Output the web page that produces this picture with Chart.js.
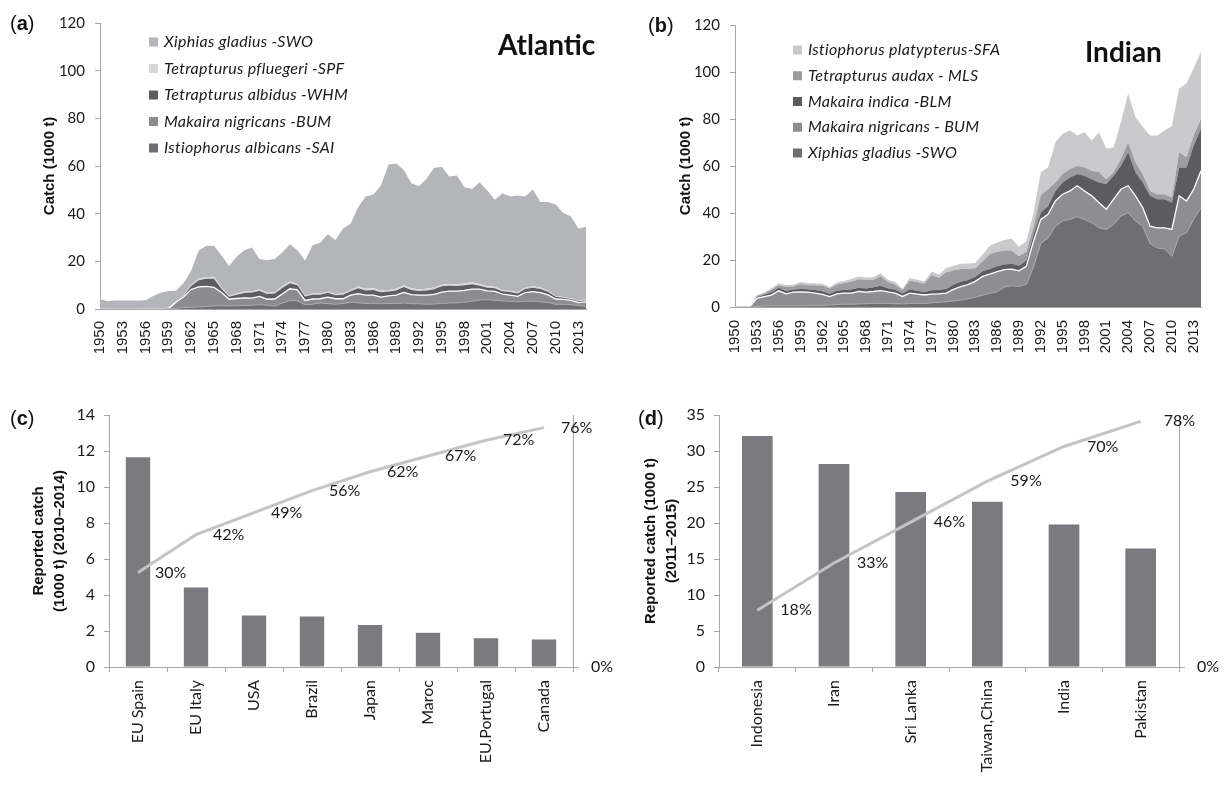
<!DOCTYPE html>
<html>
<head>
<meta charset="utf-8">
<script src="https://cdn.jsdelivr.net/npm/chart.js@4.4.0/dist/chart.umd.min.js"></script>
<style>
  body { margin: 0; background: #fff; width: 1232px; height: 786px; position: relative; overflow: hidden; }
  canvas { position: absolute; }
</style>
</head>
<body>
<canvas id="atl" width="616" height="390" style="left:0;top:0"></canvas>
<canvas id="ind" width="616" height="390" style="left:616px;top:0"></canvas>
<canvas id="topAtl" width="616" height="396" style="left:0;top:390px"></canvas>
<canvas id="topInd" width="616" height="396" style="left:616px;top:390px"></canvas>
<script>
const years = [
  '1950','1951','1952','1953','1954','1955','1956','1957','1958','1959',
  '1960','1961','1962','1963','1964','1965','1966','1967','1968','1969',
  '1970','1971','1972','1973','1974','1975','1976','1977','1978','1979',
  '1980','1981','1982','1983','1984','1985','1986','1987','1988','1989',
  '1990','1991','1992','1993','1994','1995','1996','1997','1998','1999',
  '2000','2001','2002','2003','2004','2005','2006','2007','2008','2009',
  '2010','2011','2012','2013','2014'
];

// Atlantic catches (1000 t), stacked bottom to top
const saiAtl = [
  0, 0, 0, 0, 0, 0, 0, 0, 0, 0.1,
  0.3, 0.5, 0.7, 0.8, 1.0, 1.3, 1.4, 1.3, 1.4, 1.5,
  1.6, 1.8, 1.6, 1.2, 2.5, 3.5, 3.5, 1.8, 2.0, 2.5,
  2.2, 2.0, 2.3, 2.8, 2.6, 2.3, 2.3, 2.2, 2.3, 2.3,
  2.5, 2.2, 2.2, 2.0, 2.1, 2.3, 2.5, 2.6, 2.8, 3.3,
  3.8, 3.9, 3.7, 3.4, 3.2, 3.0, 3.3, 3.3, 3.0, 2.7,
  2.0, 2.0, 1.8, 1.5, 1.2
];
const bumAtl = [
  0, 0, 0, 0, 0, 0, 0, 0, 0, 0,
  2.5, 4.5, 7.5, 8.5, 8.5, 7.8, 5.5, 2.8, 3.0, 3.2,
  3.0, 3.5, 2.5, 3.0, 3.8, 5.0, 4.5, 1.8, 2.2, 1.8,
  2.8, 2.3, 2.0, 3.0, 3.8, 3.5, 3.5, 2.8, 3.2, 3.5,
  4.5, 3.8, 3.6, 3.8, 4.0, 4.8, 5.0, 4.9, 5.0, 5.0,
  4.5, 3.7, 3.7, 2.8, 2.6, 2.3, 3.6, 4.0, 3.9, 3.2,
  2.2, 2.0, 1.8, 1.2, 1.8
];
const whmAtl = [
  0, 0, 0, 0, 0, 0, 0, 0, 0, 0,
  0.3, 0.6, 1.5, 2.8, 3.2, 3.6, 1.6, 1.0, 1.6, 2.0,
  2.3, 2.4, 2.2, 2.3, 2.5, 2.3, 2.0, 1.6, 1.8, 1.7,
  1.8, 1.5, 1.7, 1.7, 2.3, 2.0, 2.2, 2.0, 1.8, 2.0,
  2.2, 2.0, 1.8, 2.0, 2.2, 2.4, 2.3, 2.1, 2.2, 2.1,
  1.5, 1.3, 1.3, 1.2, 1.3, 1.2, 1.5, 1.6, 1.5, 1.3,
  0.9, 0.7, 0.6, 0.5, 0.6
];
const spfAtl = [
  0, 0, 0, 0, 0, 0, 0.3, 0.4, 0.4, 0.4,
  0.2, 0.3, 0.5, 0.6, 0.6, 0.8, 0.5, 0.4, 0.5, 0.6,
  0.6, 0.6, 0.5, 0.5, 0.7, 0.7, 0.5, 0.5, 0.5, 0.5,
  0.5, 0.5, 0.5, 0.5, 0.8, 0.7, 0.7, 0.7, 0.7, 0.7,
  0.8, 0.7, 0.7, 0.7, 0.7, 0.7, 0.7, 0.7, 0.8, 0.8,
  0.7, 0.6, 0.6, 0.6, 0.6, 0.5, 0.6, 0.6, 0.6, 0.5,
  0.4, 0.3, 0.3, 0.3, 0.4
];
const swoAtl = [
  4.2, 3.3, 3.6, 3.6, 3.6, 3.6, 3.4, 5.1, 6.4, 7.1,
  4.4, 4.9, 5.8, 11.8, 13.2, 13.0, 13.5, 12.5, 15.5, 17.4,
  18.3, 12.7, 13.7, 14.0, 14.2, 15.7, 14.2, 14.6, 20.3, 21.3,
  24.1, 22.7, 27.3, 27.8, 33.3, 38.7, 39.3, 44.1, 52.6, 52.6,
  48.3, 44.1, 43.2, 46.1, 50.2, 49.5, 45.1, 45.7, 40.3, 39.2,
  42.7, 40.2, 36.5, 40.6, 39.5, 40.6, 38.2, 40.6, 35.9, 37.2,
  38.3, 35.3, 34.4, 30.3, 30.5
];

// Indian Ocean catches (1000 t), stacked bottom to top
const swoInd = [
  0, 0, 0, 0.3, 0.4, 0.5, 0.5, 0.5, 0.5, 0.5,
  0.6, 0.6, 0.7, 0.8, 1.0, 1.2, 1.2, 1.3, 1.4, 1.5,
  1.6, 1.5, 1.4, 1.3, 1.5, 1.6, 1.5, 1.8, 2.0, 2.2,
  2.6, 3.0, 3.5, 4.2, 5.0, 5.8, 6.5, 8.5, 9.0, 8.8,
  9.5, 17.0, 27.0, 29.4, 34.4, 36.6, 37.3, 38.4, 37.3, 35.9,
  33.7, 33.0, 35.1, 38.7, 40.1, 36.6, 34.4, 27.0, 25.1, 24.7,
  21.6, 30.1, 31.6, 37.3, 42.3
];
const bumInd = [
  0, 0, 0, 3.4, 4.0, 4.6, 6.4, 5.1, 5.8, 5.9,
  5.7, 5.3, 4.7, 3.6, 4.6, 4.7, 4.7, 5.3, 4.9, 5.1,
  5.4, 4.9, 4.5, 3.2, 4.4, 3.9, 3.6, 3.7, 3.6, 3.7,
  4.9, 5.7, 6.0, 6.7, 8.0, 8.2, 8.6, 7.4, 7.1, 6.6,
  7.8, 11.0, 10.3, 10.0, 10.7, 11.4, 12.1, 13.2, 12.1, 11.4,
  10.7, 8.6, 10.8, 11.4, 11.5, 10.7, 7.9, 7.4, 8.6, 9.0,
  11.4, 17.2, 13.5, 12.8, 15.7
];
const blmInd = [
  0, 0, 0, 0.6, 0.8, 1.2, 1.3, 1.2, 1.2, 1.3,
  1.3, 1.3, 1.3, 1.2, 1.3, 1.4, 1.6, 1.6, 1.6, 1.8,
  2.0, 1.6, 1.4, 1.2, 1.5, 1.4, 1.3, 1.6, 1.6, 1.8,
  2.0, 2.0, 2.0, 2.0, 2.2, 2.2, 2.2, 2.2, 2.3, 2.2,
  2.5, 2.8, 2.8, 3.6, 4.3, 5.0, 5.7, 5.0, 6.5, 7.1,
  8.6, 10.7, 10.0, 10.0, 14.3, 10.0, 10.7, 12.9, 12.2, 12.2,
  11.4, 12.1, 14.3, 18.6, 17.9
];
const mlsInd = [
  0, 0, 0, 0.5, 0.5, 1.1, 1.1, 1.8, 1.2, 2.0,
  1.7, 2.1, 2.4, 2.3, 2.7, 2.9, 3.4, 3.6, 3.6, 3.1,
  4.1, 2.6, 2.3, 1.5, 3.8, 3.7, 3.5, 6.5, 5.2, 7.1,
  6.1, 5.5, 4.8, 3.6, 4.3, 6.4, 6.2, 5.9, 5.6, 4.0,
  3.7, 3.2, 7.5, 7.1, 3.6, 3.6, 3.6, 3.5, 3.5, 3.6,
  4.3, 2.1, 1.4, 2.9, 4.2, 4.3, 3.6, 2.1, 2.1, 2.1,
  2.2, 6.5, 4.3, 4.3, 4.2
];
const sfaInd = [
  0, 0, 0, 0.3, 0.4, 0.6, 0.8, 0.8, 0.7, 0.9,
  0.8, 0.8, 0.8, 0.6, 0.8, 0.9, 1.0, 1.2, 1.1, 1.2,
  1.3, 1.0, 1.0, 0.6, 1.1, 1.0, 1.0, 1.5, 1.3, 1.8,
  2.0, 2.2, 2.2, 2.2, 2.8, 3.5, 4.0, 4.5, 5.0, 4.0,
  4.5, 6.0, 9.7, 9.3, 17.1, 17.1, 16.4, 12.9, 15.0, 12.9,
  17.1, 12.9, 10.7, 15.7, 20.8, 19.3, 20.0, 23.6, 25.0, 27.1,
  30.4, 27.1, 31.4, 28.6, 28.6
];

// Top fishing countries
const countriesAtl = ['EU Spain', 'EU Italy', 'USA', 'Brazil', 'Japan', 'Maroc', 'EU.Portugal', 'Canada'];
const catchAtl = [11.65, 4.42, 2.86, 2.8, 2.34, 1.9, 1.6, 1.53];
const cumPctAtl = [30, 42, 49, 56, 62, 67, 72, 76];

const countriesInd = ['Indonesia', 'Iran', 'Sri Lanka', 'Taiwan,China', 'India', 'Pakistan'];
const catchInd = [32.1, 28.2, 24.3, 22.95, 19.8, 16.45];
const cumPctInd = [18, 33, 46, 59, 70, 78];

Chart.defaults.font.family = 'Lato, sans-serif';
Chart.defaults.color = '#1a1a1a';

const AXIS = '#a6a6a6';
const INK = '#1a1a1a';

// text written straight on the canvas: panel letters and ocean names
const notes = {
  id: 'notes',
  afterDraw(chart, args, opts) {
    const ctx = chart.ctx;
    ctx.save();
    ctx.fillStyle = '#111';
    ctx.textBaseline = 'alphabetic';
    ctx.textAlign = 'left';
    (opts.items || []).forEach(item => {
      let x = item.x;
      item.parts.forEach(p => {
        ctx.font = p.font;
        ctx.fillText(p.text, x, item.y);
        x += ctx.measureText(p.text).width;
      });
    });
    ctx.restore();
  }
};

function panelTag(letter, x, y) {
  const f = '20px "Liberation Sans", Arial, sans-serif';
  return { x, y, parts: [{ text: '(', font: f }, { text: letter, font: 'bold ' + f }, { text: ')', font: f }] };
}

// legend drawn inside the plot, top of stack first (like Excel)
const areaLegend = {
  id: 'areaLegend',
  afterDraw(chart, args, opts) {
    const ctx = chart.ctx;
    const sets = chart.data.datasets;
    ctx.save();
    ctx.font = 'italic 16px Lato';
    ctx.letterSpacing = '0.3px';
    ctx.textBaseline = 'middle';
    ctx.textAlign = 'left';
    for (let k = 0; k < sets.length; k++) {
      const ds = sets[sets.length - 1 - k];
      const y = opts.y + k * opts.dy;
      ctx.fillStyle = ds.backgroundColor;
      ctx.fillRect(opts.x, y - 4.5, 9, 9);
      ctx.fillStyle = INK;
      ctx.fillText(ds.label, opts.x + 15, y);
    }
    ctx.restore();
  }
};

// cumulative percentage labels right of each line point
const pctLabels = {
  id: 'pctLabels',
  afterDatasetsDraw(chart, args, opts) {
    const ctx = chart.ctx;
    const meta = chart.getDatasetMeta(1);
    const vals = chart.data.datasets[1].data;
    ctx.save();
    ctx.font = '16px Lato';
    ctx.fillStyle = INK;
    ctx.textAlign = 'left';
    ctx.textBaseline = 'middle';
    meta.data.forEach((pt, i) => ctx.fillText(vals[i] + '%', pt.x + opts.dx, pt.y));
    ctx.restore();
  }
};

function areaChart(id, series, g) {
  new Chart(document.getElementById(id), {
    type: 'line',
    data: {
      labels: years,
      datasets: series.map((s, i) => ({
        label: s.label,
        data: s.data,
        backgroundColor: s.color,
        borderColor: s.line || 'rgba(0,0,0,0)',
        borderWidth: s.lineWidth || 1,
        fill: i === 0 ? 'origin' : '-1',
        pointRadius: 0,
        tension: 0
      }))
    },
    options: {
      responsive: false,
      animation: false,
      devicePixelRatio: 1,
      layout: { padding: { left: 0, top: g.top, right: g.right, bottom: 0 } },
      plugins: {
        legend: { display: false },
        tooltip: { enabled: false },
        areaLegend: g.legend,
        notes: { items: g.notes }
      },
      scales: {
        x: {
          offset: false,
          ticks: {
            autoSkip: false, maxRotation: 90, minRotation: 90, padding: g.xPad,
            font: { family: '"Liberation Sans", Arial, sans-serif', size: 15 }, color: INK,
            callback(v, i) { return i % 3 === 0 ? this.getLabelForValue(v) : ''; }
          },
          grid: { display: false, drawTicks: false },
          border: { color: AXIS },
          afterFit: s => { s.height = g.xHeight; }
        },
        y: {
          stacked: true, min: 0, max: 120,
          ticks: { stepSize: 20, padding: 10, font: { size: 15 }, color: INK },
          grid: { drawOnChartArea: false, tickLength: 5, color: AXIS },
          border: { color: AXIS },
          title: {
            display: true, text: 'Catch (1000 t)', color: '#111',
            font: { family: '"Liberation Sans", Arial, sans-serif', weight: 'bold', size: 15 },
            padding: { top: g.titleX - 9, bottom: 0 }
          },
          afterFit: s => { s.width = g.yWidth; }
        }
      }
    },
    plugins: [areaLegend, notes]
  });
}

function paretoChart(id, cats, vals, pcts, g) {
  new Chart(document.getElementById(id), {
    data: {
      labels: cats,
      datasets: [
        { type: 'bar', data: vals, backgroundColor: '#7b7b7f', barPercentage: g.bar, categoryPercentage: 1, order: 1, yAxisID: 'y' },
        { type: 'line', data: pcts, borderColor: '#c4c4c4', borderWidth: 3, pointRadius: 0, tension: 0, fill: false, order: 0, yAxisID: 'y1' }
      ]
    },
    options: {
      responsive: false,
      animation: false,
      devicePixelRatio: 1,
      layout: { padding: { left: 0, top: g.top, right: 0, bottom: 0 } },
      plugins: {
        legend: { display: false },
        tooltip: { enabled: false },
        pctLabels: { dx: g.dx },
        notes: { items: g.notes }
      },
      scales: {
        x: {
          ticks: { autoSkip: false, maxRotation: 90, minRotation: 90, padding: 8, font: { size: 16 }, color: INK },
          grid: { drawOnChartArea: false, tickLength: 5, color: AXIS },
          border: { color: AXIS },
          afterFit: s => { s.height = g.xHeight; }
        },
        y: {
          min: 0, max: g.max,
          ticks: { stepSize: g.step, padding: 9, font: { size: 16 }, color: INK },
          grid: { drawOnChartArea: false, tickLength: 5, color: AXIS },
          border: { color: AXIS },
          title: {
            display: true, text: g.title, color: '#111',
            font: { family: '"Liberation Sans", Arial, sans-serif', weight: 'bold', size: 15, lineHeight: 1.4 },
            padding: { top: g.titleX - 10.5, bottom: 0 }
          },
          afterFit: s => { s.width = g.yWidth; }
        },
        y1: {
          position: 'right', min: 0, max: 80,
          ticks: { stepSize: 100, includeBounds: false, padding: 12, font: { size: 16 }, color: INK, callback: v => v + '%' },
          grid: { drawOnChartArea: false, tickLength: 6, color: AXIS },
          border: { color: AXIS },
          afterFit: s => { s.width = g.rWidth; }
        }
      }
    },
    plugins: [pctLabels, notes]
  });
}

const FAINT = '#a9a9ad';

areaChart('atl', [
  { label: 'Istiophorus albicans -SAI', data: saiAtl, color: '#707074', line: FAINT },
  { label: 'Makaira nigricans -BUM', data: bumAtl, color: '#8c8c90', line: '#ffffff', lineWidth: 1.3 },
  { label: 'Tetrapturus albidus -WHM', data: whmAtl, color: '#5e5e62' },
  { label: 'Tetrapturus pfluegeri -SPF', data: spfAtl, color: '#d8d8da' },
  { label: 'Xiphias gladius -SWO', data: swoAtl, color: '#b4b5b9' }
], {
  top: 23, right: 24, yWidth: 100, xHeight: 81, xPad: 12, titleX: 50,
  legend: { x: 149, y: 42, dy: 26.5 },
  notes: [panelTag('a', 10, 30), { x: 498, y: 55, parts: [{ text: 'Atlantic', font: 'bold 28px Lato' }] }]
});

areaChart('ind', [
  { label: 'Xiphias gladius -SWO', data: swoInd, color: '#6f6f73', line: FAINT },
  { label: 'Makaira nigricans - BUM', data: bumInd, color: '#8e8e92', line: '#ffffff', lineWidth: 1.3 },
  { label: 'Makaira indica -BLM', data: blmInd, color: '#5c5c60' },
  { label: 'Tetrapturus audax - MLS', data: mlsInd, color: '#9d9da1' },
  { label: 'Istiophorus platypterus-SFA', data: sfaInd, color: '#cacacc' }
], {
  top: 25, right: 16, yWidth: 119, xHeight: 83, xPad: 13, titleX: 70,
  legend: { x: 177, y: 50, dy: 25.75 },
  notes: [panelTag('b', 32, 32), { x: 469, y: 62, parts: [{ text: 'Indian', font: 'bold 28px Lato' }] }]
});

paretoChart('topAtl', countriesAtl, catchAtl, cumPctAtl, {
  top: 25, yWidth: 109, rWidth: 43, xHeight: 119, max: 14, step: 2, bar: 0.42, dx: 17, titleX: 39,
  title: ['Reported catch', '(1000 t) (2010–2014)'],
  notes: [panelTag('c', 10, 35)]
});

paretoChart('topInd', countriesInd, catchInd, cumPctInd, {
  top: 25, yWidth: 103, rWidth: 53, xHeight: 119, max: 35, step: 5, bar: 0.40, dx: 23, titleX: 35,
  title: ['Reported catch (1000 t)', '(2011–2015)'],
  notes: [panelTag('d', 22, 35)]
});
</script>
</body>
</html>
